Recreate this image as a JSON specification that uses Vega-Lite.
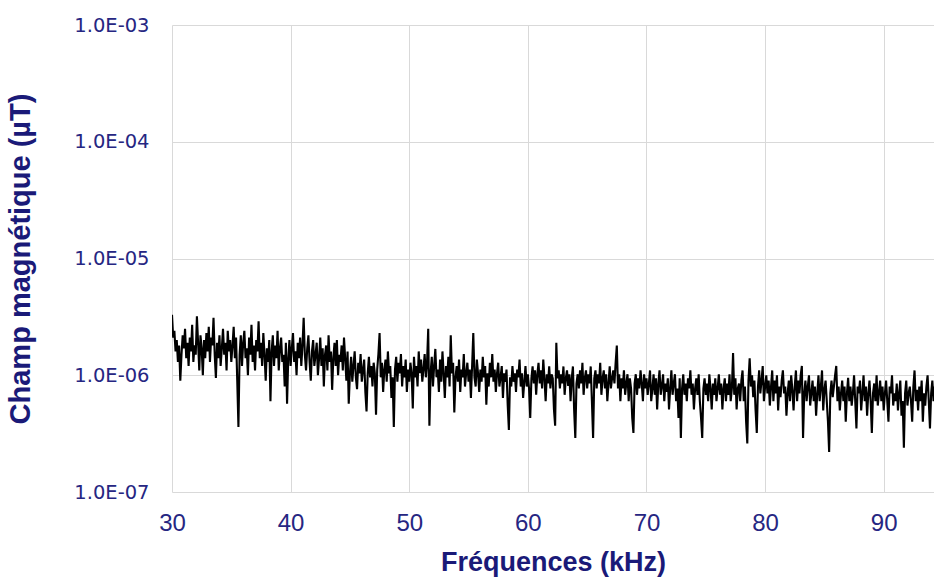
{
"$schema":"https://vega.github.io/schema/vega-lite/v6.json",
"width":762,"height":467,
"autosize":{"type":"none"},
"padding":{"left":172,"top":25,"right":0,"bottom":87},
"background":"white",
"config":{"view":{"stroke":null},"font":"Liberation Sans"},
"data":{"values":[
{"f":30.0,"b":33e-7},{"f":30.1,"b":21e-7},{"f":30.2,"b":24e-7},{"f":30.3,"b":16e-7},{"f":30.4,"b":20e-7},{"f":30.5,"b":13e-7},{"f":30.6,"b":18e-7},{"f":30.7,"b":9e-7},{"f":30.8,"b":15e-7},{"f":30.9,"b":22e-7},
{"f":31.0,"b":17e-7},{"f":31.1,"b":25e-7},{"f":31.2,"b":14e-7},{"f":31.3,"b":19e-7},{"f":31.4,"b":12e-7},{"f":31.5,"b":21e-7},{"f":31.6,"b":16e-7},{"f":31.7,"b":27e-7},{"f":31.8,"b":13e-7},{"f":31.9,"b":18e-7},
{"f":32.0,"b":15e-7},{"f":32.1,"b":32e-7},{"f":32.2,"b":19e-7},{"f":32.3,"b":11e-7},{"f":32.4,"b":22e-7},{"f":32.5,"b":17e-7},{"f":32.6,"b":10e-7},{"f":32.7,"b":20e-7},{"f":32.8,"b":14e-7},{"f":32.9,"b":23e-7},
{"f":33.0,"b":16e-7},{"f":33.1,"b":26e-7},{"f":33.2,"b":13e-7},{"f":33.3,"b":21e-7},{"f":33.4,"b":18e-7},{"f":33.5,"b":31e-7},{"f":33.6,"b":15e-7},{"f":33.7,"b":9.5e-7},{"f":33.8,"b":19e-7},{"f":33.9,"b":14e-7},
{"f":34.0,"b":22e-7},{"f":34.1,"b":12e-7},{"f":34.2,"b":17e-7},{"f":34.3,"b":25e-7},{"f":34.4,"b":15e-7},{"f":34.5,"b":19e-7},{"f":34.6,"b":11e-7},{"f":34.7,"b":24e-7},{"f":34.8,"b":16e-7},{"f":34.9,"b":20e-7},
{"f":35.0,"b":13e-7},{"f":35.1,"b":18e-7},{"f":35.2,"b":26e-7},{"f":35.3,"b":14e-7},{"f":35.4,"b":21e-7},{"f":35.5,"b":9e-7},{"f":35.6,"b":3.6e-7},{"f":35.7,"b":15e-7},{"f":35.8,"b":22e-7},{"f":35.9,"b":12e-7},
{"f":36.0,"b":19e-7},{"f":36.1,"b":24e-7},{"f":36.2,"b":14e-7},{"f":36.3,"b":17e-7},{"f":36.4,"b":10e-7},{"f":36.5,"b":21e-7},{"f":36.6,"b":15e-7},{"f":36.7,"b":27e-7},{"f":36.8,"b":13e-7},{"f":36.9,"b":18e-7},
{"f":37.0,"b":11e-7},{"f":37.1,"b":20e-7},{"f":37.2,"b":16e-7},{"f":37.3,"b":29e-7},{"f":37.4,"b":14e-7},{"f":37.5,"b":19e-7},{"f":37.6,"b":12e-7},{"f":37.7,"b":23e-7},{"f":37.8,"b":15e-7},{"f":37.9,"b":9e-7},
{"f":38.0,"b":17e-7},{"f":38.1,"b":13e-7},{"f":38.2,"b":20e-7},{"f":38.3,"b":6e-7},{"f":38.4,"b":16e-7},{"f":38.5,"b":22e-7},{"f":38.6,"b":12e-7},{"f":38.7,"b":18e-7},{"f":38.8,"b":14e-7},{"f":38.9,"b":24e-7},
{"f":39.0,"b":11e-7},{"f":39.1,"b":17e-7},{"f":39.2,"b":21e-7},{"f":39.3,"b":13e-7},{"f":39.4,"b":15e-7},{"f":39.5,"b":8e-7},{"f":39.6,"b":19e-7},{"f":39.7,"b":5.7e-7},{"f":39.8,"b":14e-7},{"f":39.9,"b":20e-7},
{"f":40.0,"b":12e-7},{"f":40.1,"b":17e-7},{"f":40.2,"b":23e-7},{"f":40.3,"b":13e-7},{"f":40.4,"b":16e-7},{"f":40.5,"b":10e-7},{"f":40.6,"b":19e-7},{"f":40.7,"b":14e-7},{"f":40.8,"b":21e-7},{"f":40.9,"b":12e-7},
{"f":41.0,"b":18e-7},{"f":41.1,"b":31e-7},{"f":41.2,"b":15e-7},{"f":41.3,"b":11e-7},{"f":41.4,"b":17e-7},{"f":41.5,"b":22e-7},{"f":41.6,"b":13e-7},{"f":41.7,"b":9e-7},{"f":41.8,"b":16e-7},{"f":41.9,"b":20e-7},
{"f":42.0,"b":12e-7},{"f":42.1,"b":15e-7},{"f":42.2,"b":19e-7},{"f":42.3,"b":10e-7},{"f":42.4,"b":14e-7},{"f":42.5,"b":21e-7},{"f":42.6,"b":12e-7},{"f":42.7,"b":17e-7},{"f":42.8,"b":8e-7},{"f":42.9,"b":15e-7},
{"f":43.0,"b":18e-7},{"f":43.1,"b":11e-7},{"f":43.2,"b":22e-7},{"f":43.3,"b":13e-7},{"f":43.4,"b":16e-7},{"f":43.5,"b":7.5e-7},{"f":43.6,"b":14e-7},{"f":43.7,"b":19e-7},{"f":43.8,"b":12e-7},{"f":43.9,"b":20e-7},
{"f":44.0,"b":10e-7},{"f":44.1,"b":15e-7},{"f":44.2,"b":13e-7},{"f":44.3,"b":18e-7},{"f":44.4,"b":11e-7},{"f":44.5,"b":21e-7},{"f":44.6,"b":14e-7},{"f":44.7,"b":9e-7},{"f":44.8,"b":16e-7},{"f":44.9,"b":5.7e-7},
{"f":45.0,"b":10.4e-7},{"f":45.1,"b":14.4e-7},{"f":45.2,"b":8.8e-7},{"f":45.3,"b":12e-7},{"f":45.4,"b":16e-7},{"f":45.5,"b":9.6e-7},{"f":45.6,"b":7.6e-7},{"f":45.7,"b":12.8e-7},{"f":45.8,"b":10.4e-7},{"f":45.9,"b":15.2e-7},
{"f":46.0,"b":8.8e-7},{"f":46.1,"b":11.2e-7},{"f":46.2,"b":13.6e-7},{"f":46.3,"b":7.2e-7},{"f":46.4,"b":4.9e-7},{"f":46.5,"b":10.4e-7},{"f":46.6,"b":14.4e-7},{"f":46.7,"b":9.6e-7},{"f":46.8,"b":12e-7},{"f":46.9,"b":8e-7},
{"f":47.0,"b":12.8e-7},{"f":47.1,"b":10.4e-7},{"f":47.2,"b":4.6e-7},{"f":47.3,"b":11.2e-7},{"f":47.4,"b":15.2e-7},{"f":47.5,"b":23e-7},{"f":47.6,"b":9.6e-7},{"f":47.7,"b":12.8e-7},{"f":47.8,"b":7.2e-7},{"f":47.9,"b":11.2e-7},
{"f":48.0,"b":13.6e-7},{"f":48.1,"b":8.8e-7},{"f":48.2,"b":16e-7},{"f":48.3,"b":10.4e-7},{"f":48.4,"b":12e-7},{"f":48.5,"b":6.4e-7},{"f":48.6,"b":9.6e-7},{"f":48.7,"b":3.6e-7},{"f":48.8,"b":11.2e-7},{"f":48.9,"b":14.4e-7},
{"f":49.0,"b":8.8e-7},{"f":49.1,"b":12.8e-7},{"f":49.2,"b":10.4e-7},{"f":49.3,"b":15.2e-7},{"f":49.4,"b":8e-7},{"f":49.5,"b":12e-7},{"f":49.6,"b":9.6e-7},{"f":49.7,"b":13.6e-7},{"f":49.8,"b":7.2e-7},{"f":49.9,"b":11.2e-7},
{"f":50.0,"b":8.8e-7},{"f":50.1,"b":12.8e-7},{"f":50.2,"b":10.4e-7},{"f":50.3,"b":5.2e-7},{"f":50.4,"b":14.4e-7},{"f":50.5,"b":9.6e-7},{"f":50.6,"b":12e-7},{"f":50.7,"b":8e-7},{"f":50.8,"b":16e-7},{"f":50.9,"b":10.4e-7},
{"f":51.0,"b":13.6e-7},{"f":51.1,"b":8.8e-7},{"f":51.2,"b":11.2e-7},{"f":51.3,"b":15.2e-7},{"f":51.4,"b":9.6e-7},{"f":51.5,"b":12.8e-7},{"f":51.6,"b":25e-7},{"f":51.7,"b":3.7e-7},{"f":51.8,"b":10.4e-7},{"f":51.9,"b":14.4e-7},
{"f":52.0,"b":8e-7},{"f":52.1,"b":12e-7},{"f":52.2,"b":16.8e-7},{"f":52.3,"b":9.6e-7},{"f":52.4,"b":11.2e-7},{"f":52.5,"b":7.2e-7},{"f":52.6,"b":13.6e-7},{"f":52.7,"b":8.8e-7},{"f":52.8,"b":16e-7},{"f":52.9,"b":10.4e-7},
{"f":53.0,"b":6.4e-7},{"f":53.1,"b":12e-7},{"f":53.2,"b":9.6e-7},{"f":53.3,"b":14.4e-7},{"f":53.4,"b":8e-7},{"f":53.5,"b":22e-7},{"f":53.6,"b":10.4e-7},{"f":53.7,"b":12.8e-7},{"f":53.8,"b":4.8e-7},{"f":53.9,"b":9.6e-7},
{"f":54.0,"b":12e-7},{"f":54.1,"b":8.8e-7},{"f":54.2,"b":13.6e-7},{"f":54.3,"b":7.2e-7},{"f":54.4,"b":11.2e-7},{"f":54.5,"b":9.6e-7},{"f":54.6,"b":15.2e-7},{"f":54.7,"b":8e-7},{"f":54.8,"b":10.4e-7},{"f":54.9,"b":12.8e-7},
{"f":55.0,"b":8.8e-7},{"f":55.1,"b":11.2e-7},{"f":55.2,"b":6.4e-7},{"f":55.3,"b":12e-7},{"f":55.4,"b":23e-7},{"f":55.5,"b":9.6e-7},{"f":55.6,"b":8e-7},{"f":55.7,"b":13.6e-7},{"f":55.8,"b":10.4e-7},{"f":55.9,"b":7.2e-7},
{"f":56.0,"b":11.2e-7},{"f":56.1,"b":8.8e-7},{"f":56.2,"b":14.4e-7},{"f":56.3,"b":9.6e-7},{"f":56.4,"b":12e-7},{"f":56.5,"b":5.6e-7},{"f":56.6,"b":10.4e-7},{"f":56.7,"b":8e-7},{"f":56.8,"b":12.8e-7},{"f":56.9,"b":9.6e-7},
{"f":57.0,"b":15.2e-7},{"f":57.1,"b":8.8e-7},{"f":57.2,"b":11.2e-7},{"f":57.3,"b":7.2e-7},{"f":57.4,"b":10.4e-7},{"f":57.5,"b":12.8e-7},{"f":57.6,"b":8e-7},{"f":57.7,"b":9.6e-7},{"f":57.8,"b":12e-7},{"f":57.9,"b":6.4e-7},
{"f":58.0,"b":10.4e-7},{"f":58.1,"b":8.8e-7},{"f":58.2,"b":11.2e-7},{"f":58.3,"b":5.6e-7},{"f":58.4,"b":3.4e-7},{"f":58.5,"b":9.6e-7},{"f":58.6,"b":8e-7},{"f":58.7,"b":12e-7},{"f":58.8,"b":8.8e-7},{"f":58.9,"b":10.4e-7},
{"f":59.0,"b":7.2e-7},{"f":59.1,"b":11.2e-7},{"f":59.2,"b":9.6e-7},{"f":59.3,"b":13.6e-7},{"f":59.4,"b":8e-7},{"f":59.5,"b":10.4e-7},{"f":59.6,"b":6.4e-7},{"f":59.7,"b":8.8e-7},{"f":59.8,"b":12e-7},{"f":59.9,"b":8e-7},
{"f":60.0,"b":10.2e-7},{"f":60.1,"b":7.7e-7},{"f":60.2,"b":4.3e-7},{"f":60.3,"b":9.4e-7},{"f":60.4,"b":11.9e-7},{"f":60.5,"b":8.5e-7},{"f":60.6,"b":11e-7},{"f":60.7,"b":6.8e-7},{"f":60.8,"b":10.2e-7},{"f":60.9,"b":12.8e-7},
{"f":61.0,"b":8.5e-7},{"f":61.1,"b":11e-7},{"f":61.2,"b":7.7e-7},{"f":61.3,"b":13.6e-7},{"f":61.4,"b":9.4e-7},{"f":61.5,"b":6e-7},{"f":61.6,"b":10.2e-7},{"f":61.7,"b":8.5e-7},{"f":61.8,"b":11.9e-7},{"f":61.9,"b":7.7e-7},
{"f":62.0,"b":10.2e-7},{"f":62.1,"b":9.4e-7},{"f":62.2,"b":5.1e-7},{"f":62.3,"b":3.7e-7},{"f":62.4,"b":19e-7},{"f":62.5,"b":9.4e-7},{"f":62.6,"b":11e-7},{"f":62.7,"b":7.7e-7},{"f":62.8,"b":10.2e-7},{"f":62.9,"b":8.5e-7},
{"f":63.0,"b":11.9e-7},{"f":63.1,"b":6.8e-7},{"f":63.2,"b":9.4e-7},{"f":63.3,"b":11e-7},{"f":63.4,"b":8.1e-7},{"f":63.5,"b":10.2e-7},{"f":63.6,"b":6e-7},{"f":63.7,"b":9.4e-7},{"f":63.8,"b":11.9e-7},{"f":63.9,"b":5.1e-7},
{"f":64.0,"b":2.9e-7},{"f":64.1,"b":8.5e-7},{"f":64.2,"b":10.2e-7},{"f":64.3,"b":7.7e-7},{"f":64.4,"b":11e-7},{"f":64.5,"b":8.5e-7},{"f":64.6,"b":12.8e-7},{"f":64.7,"b":6.8e-7},{"f":64.8,"b":9.4e-7},{"f":64.9,"b":11e-7},
{"f":65.0,"b":7.7e-7},{"f":65.1,"b":10.2e-7},{"f":65.2,"b":8.5e-7},{"f":65.3,"b":11.9e-7},{"f":65.4,"b":6e-7},{"f":65.5,"b":2.9e-7},{"f":65.6,"b":9.4e-7},{"f":65.7,"b":11e-7},{"f":65.8,"b":7.7e-7},{"f":65.9,"b":10.2e-7},
{"f":66.0,"b":8.5e-7},{"f":66.1,"b":12.8e-7},{"f":66.2,"b":6.8e-7},{"f":66.3,"b":9.4e-7},{"f":66.4,"b":11e-7},{"f":66.5,"b":7.7e-7},{"f":66.6,"b":10.2e-7},{"f":66.7,"b":6e-7},{"f":66.8,"b":8.5e-7},{"f":66.9,"b":11.9e-7},
{"f":67.0,"b":7.7e-7},{"f":67.1,"b":9.4e-7},{"f":67.2,"b":11e-7},{"f":67.3,"b":8.5e-7},{"f":67.4,"b":12.8e-7},{"f":67.5,"b":18e-7},{"f":67.6,"b":7.7e-7},{"f":67.7,"b":10.2e-7},{"f":67.8,"b":6e-7},{"f":67.9,"b":9.4e-7},
{"f":68.0,"b":7.7e-7},{"f":68.1,"b":11e-7},{"f":68.2,"b":6.8e-7},{"f":68.3,"b":8.5e-7},{"f":68.4,"b":10.2e-7},{"f":68.5,"b":6e-7},{"f":68.6,"b":9.4e-7},{"f":68.7,"b":7.7e-7},{"f":68.8,"b":4.3e-7},{"f":68.9,"b":3.2e-7},
{"f":69.0,"b":8.5e-7},{"f":69.1,"b":10.2e-7},{"f":69.2,"b":6.8e-7},{"f":69.3,"b":9.4e-7},{"f":69.4,"b":7.7e-7},{"f":69.5,"b":11e-7},{"f":69.6,"b":8.5e-7},{"f":69.7,"b":6e-7},{"f":69.8,"b":10.2e-7},{"f":69.9,"b":7.7e-7},
{"f":70.0,"b":9.4e-7},{"f":70.1,"b":6.8e-7},{"f":70.2,"b":8.5e-7},{"f":70.3,"b":11e-7},{"f":70.4,"b":6e-7},{"f":70.5,"b":7.7e-7},{"f":70.6,"b":10.2e-7},{"f":70.7,"b":6.8e-7},{"f":70.8,"b":9.4e-7},{"f":70.9,"b":5.1e-7},
{"f":71.0,"b":8.5e-7},{"f":71.1,"b":11e-7},{"f":71.2,"b":6.8e-7},{"f":71.3,"b":8.1e-7},{"f":71.4,"b":10.2e-7},{"f":71.5,"b":6e-7},{"f":71.6,"b":8.5e-7},{"f":71.7,"b":7.2e-7},{"f":71.8,"b":9.4e-7},{"f":71.9,"b":5.1e-7},
{"f":72.0,"b":7.7e-7},{"f":72.1,"b":11e-7},{"f":72.2,"b":6.8e-7},{"f":72.3,"b":8.5e-7},{"f":72.4,"b":10.2e-7},{"f":72.5,"b":6e-7},{"f":72.6,"b":7.7e-7},{"f":72.7,"b":4.3e-7},{"f":72.8,"b":9.4e-7},{"f":72.9,"b":2.9e-7},
{"f":73.0,"b":7.7e-7},{"f":73.1,"b":10.2e-7},{"f":73.2,"b":6.8e-7},{"f":73.3,"b":8.5e-7},{"f":73.4,"b":6e-7},{"f":73.5,"b":9.4e-7},{"f":73.6,"b":7.7e-7},{"f":73.7,"b":11e-7},{"f":73.8,"b":6.8e-7},{"f":73.9,"b":8.5e-7},
{"f":74.0,"b":5.1e-7},{"f":74.1,"b":7.7e-7},{"f":74.2,"b":9.4e-7},{"f":74.3,"b":6.8e-7},{"f":74.4,"b":10.2e-7},{"f":74.5,"b":6e-7},{"f":74.6,"b":4.3e-7},{"f":74.7,"b":2.9e-7},{"f":74.8,"b":7.7e-7},{"f":74.9,"b":9.4e-7},
{"f":75.0,"b":6.8e-7},{"f":75.1,"b":8.5e-7},{"f":75.2,"b":6e-7},{"f":75.3,"b":10.2e-7},{"f":75.4,"b":7.7e-7},{"f":75.5,"b":5.1e-7},{"f":75.6,"b":8.5e-7},{"f":75.7,"b":6.8e-7},{"f":75.8,"b":9.4e-7},{"f":75.9,"b":6e-7},
{"f":76.0,"b":7.7e-7},{"f":76.1,"b":10.2e-7},{"f":76.2,"b":6.8e-7},{"f":76.3,"b":8.5e-7},{"f":76.4,"b":5.1e-7},{"f":76.5,"b":7.7e-7},{"f":76.6,"b":9.4e-7},{"f":76.7,"b":6e-7},{"f":76.8,"b":8.5e-7},{"f":76.9,"b":6.8e-7},
{"f":77.0,"b":10.2e-7},{"f":77.1,"b":6e-7},{"f":77.2,"b":7.7e-7},{"f":77.3,"b":15.5e-7},{"f":77.4,"b":6.8e-7},{"f":77.5,"b":9.4e-7},{"f":77.6,"b":5.1e-7},{"f":77.7,"b":7.7e-7},{"f":77.8,"b":8.5e-7},{"f":77.9,"b":6e-7},
{"f":78.0,"b":9e-7},{"f":78.1,"b":11e-7},{"f":78.2,"b":6e-7},{"f":78.3,"b":8e-7},{"f":78.4,"b":4e-7},{"f":78.5,"b":2.6e-7},{"f":78.6,"b":9e-7},{"f":78.7,"b":14e-7},{"f":78.8,"b":8e-7},{"f":78.9,"b":10e-7},
{"f":79.0,"b":6.5e-7},{"f":79.1,"b":9e-7},{"f":79.2,"b":5e-7},{"f":79.3,"b":3.2e-7},{"f":79.4,"b":8e-7},{"f":79.5,"b":11e-7},{"f":79.6,"b":7e-7},{"f":79.7,"b":9e-7},{"f":79.8,"b":12e-7},{"f":79.9,"b":6e-7},
{"f":80.0,"b":8e-7},{"f":80.1,"b":10e-7},{"f":80.2,"b":7e-7},{"f":80.3,"b":9e-7},{"f":80.4,"b":5.5e-7},{"f":80.5,"b":8e-7},{"f":80.6,"b":11e-7},{"f":80.7,"b":6e-7},{"f":80.8,"b":9e-7},{"f":80.9,"b":7e-7},
{"f":81.0,"b":10e-7},{"f":81.1,"b":5e-7},{"f":81.2,"b":8e-7},{"f":81.3,"b":6.5e-7},{"f":81.4,"b":9e-7},{"f":81.5,"b":11e-7},{"f":81.6,"b":7e-7},{"f":81.7,"b":8e-7},{"f":81.8,"b":4.5e-7},{"f":81.9,"b":7e-7},
{"f":82.0,"b":9e-7},{"f":82.1,"b":6e-7},{"f":82.2,"b":10e-7},{"f":82.3,"b":7.5e-7},{"f":82.4,"b":5e-7},{"f":82.5,"b":8e-7},{"f":82.6,"b":11e-7},{"f":82.7,"b":6e-7},{"f":82.8,"b":9e-7},{"f":82.9,"b":7e-7},
{"f":83.0,"b":10e-7},{"f":83.1,"b":12e-7},{"f":83.2,"b":2.9e-7},{"f":83.3,"b":7e-7},{"f":83.4,"b":9e-7},{"f":83.5,"b":6e-7},{"f":83.6,"b":8e-7},{"f":83.7,"b":10e-7},{"f":83.8,"b":5.5e-7},{"f":83.9,"b":7e-7},
{"f":84.0,"b":9e-7},{"f":84.1,"b":6e-7},{"f":84.2,"b":8e-7},{"f":84.3,"b":4.5e-7},{"f":84.4,"b":7e-7},{"f":84.5,"b":10e-7},{"f":84.6,"b":6e-7},{"f":84.7,"b":8e-7},{"f":84.8,"b":11e-7},{"f":84.9,"b":5e-7},
{"f":85.0,"b":7.5e-7},{"f":85.1,"b":9e-7},{"f":85.2,"b":6e-7},{"f":85.3,"b":4e-7},{"f":85.4,"b":2.2e-7},{"f":85.5,"b":7e-7},{"f":85.6,"b":9e-7},{"f":85.7,"b":6.5e-7},{"f":85.8,"b":8e-7},{"f":85.9,"b":10e-7},
{"f":86.0,"b":12e-7},{"f":86.1,"b":6e-7},{"f":86.2,"b":8e-7},{"f":86.3,"b":5e-7},{"f":86.4,"b":7e-7},{"f":86.5,"b":9e-7},{"f":86.6,"b":6e-7},{"f":86.7,"b":8e-7},{"f":86.8,"b":4e-7},{"f":86.9,"b":7e-7},
{"f":87.0,"b":9.5e-7},{"f":87.1,"b":6e-7},{"f":87.2,"b":8e-7},{"f":87.3,"b":5.5e-7},{"f":87.4,"b":7e-7},{"f":87.5,"b":10e-7},{"f":87.6,"b":6e-7},{"f":87.7,"b":3.5e-7},{"f":87.8,"b":8e-7},{"f":87.9,"b":7e-7},
{"f":88.0,"b":9e-7},{"f":88.1,"b":5e-7},{"f":88.2,"b":7e-7},{"f":88.3,"b":10e-7},{"f":88.4,"b":6e-7},{"f":88.5,"b":8e-7},{"f":88.6,"b":4.5e-7},{"f":88.7,"b":7e-7},{"f":88.8,"b":9e-7},{"f":88.9,"b":6e-7},
{"f":89.0,"b":3.2e-7},{"f":89.1,"b":7e-7},{"f":89.2,"b":8.5e-7},{"f":89.3,"b":6e-7},{"f":89.4,"b":10e-7},{"f":89.5,"b":5.5e-7},{"f":89.6,"b":7e-7},{"f":89.7,"b":9e-7},{"f":89.8,"b":6e-7},{"f":89.9,"b":8e-7},
{"f":90.0,"b":5e-7},{"f":90.1,"b":7e-7},{"f":90.2,"b":9e-7},{"f":90.3,"b":6e-7},{"f":90.4,"b":4e-7},{"f":90.5,"b":8e-7},{"f":90.6,"b":7e-7},{"f":90.7,"b":10e-7},{"f":90.8,"b":5.5e-7},{"f":90.9,"b":7e-7},
{"f":91.0,"b":6e-7},{"f":91.1,"b":8.5e-7},{"f":91.2,"b":5e-7},{"f":91.3,"b":7e-7},{"f":91.4,"b":9e-7},{"f":91.5,"b":4.5e-7},{"f":91.6,"b":6e-7},{"f":91.7,"b":2.4e-7},{"f":91.8,"b":7e-7},{"f":91.9,"b":9e-7},
{"f":92.0,"b":5.5e-7},{"f":92.1,"b":7e-7},{"f":92.2,"b":8e-7},{"f":92.3,"b":6e-7},{"f":92.4,"b":4e-7},{"f":92.5,"b":8e-7},{"f":92.6,"b":11e-7},{"f":92.7,"b":6e-7},{"f":92.8,"b":7.5e-7},{"f":92.9,"b":5e-7},
{"f":93.0,"b":8e-7},{"f":93.1,"b":6e-7},{"f":93.2,"b":9e-7},{"f":93.3,"b":4e-7},{"f":93.4,"b":7e-7},{"f":93.5,"b":5.5e-7},{"f":93.6,"b":8e-7},{"f":93.7,"b":10e-7},{"f":93.8,"b":6e-7},{"f":93.9,"b":3.5e-7},
{"f":94.0,"b":7e-7},{"f":94.1,"b":9e-7},{"f":94.2,"b":6e-7},{"f":94.3,"b":8e-7}
]},
"mark":{"type":"line","color":"#000000","strokeWidth":2.1,"clip":true},
"encoding":{
"x":{"field":"f","type":"quantitative","scale":{"domain":[30,94.24],"nice":false,"zero":false},
"axis":{"title":"Fréquences (kHz)","values":[30,40,50,60,70,80,90],"domain":false,"ticks":false,"tickSize":0,"grid":true,"gridColor":"#d9d9d9","gridWidth":1,"labelFlush":false,
"labelFont":"Liberation Sans","labelFontSize":24,"labelColor":"#262682","labelPadding":19,
"titleFont":"Liberation Sans","titleFontSize":27,"titleFontWeight":"bold","titleColor":"#1a1a78","titlePadding":14}},
"y":{"field":"b","type":"quantitative","scale":{"type":"log","domain":[1e-7,1e-3],"nice":false},
"axis":{"title":"Champ magnétique (µT)","values":[1e-7,1e-6,1e-5,1e-4,1e-3],"labelExpr":"'1.0E-0' + toString(-round(log(datum.value)/LN10))","domain":false,"ticks":false,"tickSize":0,"grid":true,"gridColor":"#d9d9d9","gridWidth":1,
"labelFont":"DejaVu Sans","labelFontSize":19.5,"labelColor":"#262682","labelPadding":23,
"titleFont":"Liberation Sans","titleFontSize":29,"titleFontWeight":"bold","titleColor":"#1a1a78","titlePadding":38}}
}
}
